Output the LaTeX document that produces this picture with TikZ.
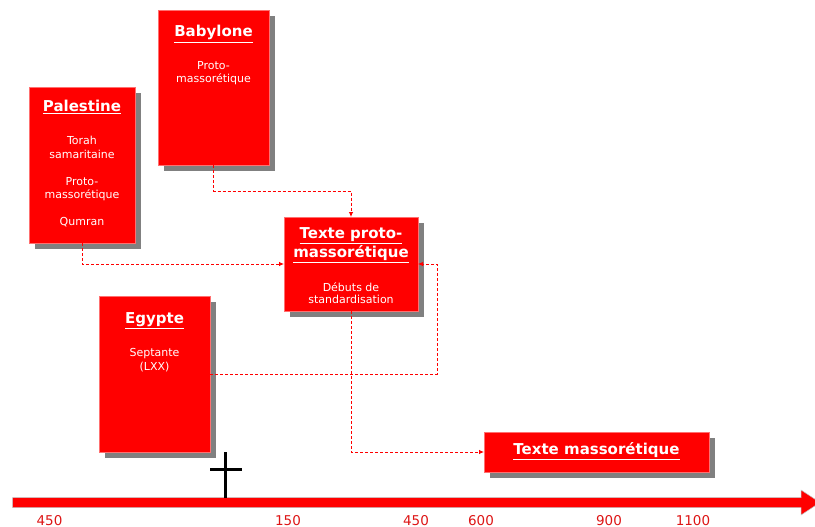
\documentclass[tikz,border=0pt]{standalone}
\usepackage{fontspec}
\setmainfont{DejaVu Sans}
\usetikzlibrary{shadows,arrows.meta}
\definecolor{boxred}{HTML}{FF0000}
\definecolor{edgered}{HTML}{FF7070}
\definecolor{shadowgray}{HTML}{808080}
\definecolor{labred}{HTML}{DD1515}
\newcommand\myul[1]{\vtop{\hbox{#1}\kern1.6pt\hrule height1.4pt}}
\tikzset{
  rbox/.style={rectangle, fill=boxred, draw=edgered, line width=0.6pt, inner sep=0pt, outer sep=0pt,
    general shadow={shadow xshift=6pt, shadow yshift=-6pt, fill=shadowgray, draw=none}},
  ttl/.style={anchor=base, text=white, inner sep=0pt, font=\fontsize{15}{19}\selectfont\bfseries},
  bdy/.style={anchor=base, text=white, inner sep=0pt, font=\fontsize{11}{13.5}\selectfont},
  conn/.style={draw=boxred, line width=0.8pt, dash pattern=on 3pt off 2pt, -{Latex[length=5pt,width=4.5pt]}},
  tl/.style={anchor=base, text=labred, inner sep=0pt, font=\fontsize{13.5}{15}\selectfont},
  crossline/.style={draw=black, line width=3pt},
}
\begin{document}
\begin{tikzpicture}[x=1pt,y=-1pt]
\useasboundingbox (0,0) rectangle (815,527);
% boxes
\node[rbox, minimum width=106pt, minimum height=156pt] (pal) at (82,165) {};
\node[rbox, minimum width=111pt, minimum height=155pt] (bab) at (213.5,87.5) {};
\node[rbox, minimum width=134pt, minimum height=94pt] (proto) at (351,264) {};
\node[rbox, minimum width=111pt, minimum height=156pt] (egy) at (154.5,374) {};
\node[rbox, minimum width=225pt, minimum height=40pt] (masso) at (596.5,452) {};
% Palestine texts
\node[ttl] (palt) at (82,111) {\myul{Palestine}};
\node[bdy] (pal1) at (82,144) {Torah};
\node[bdy] (pal2) at (82,158) {samaritaine};
\node[bdy] (pal3) at (82,185) {Proto-};
\node[bdy] (pal4) at (82,198) {massorétique};
\node[bdy] (pal5) at (82,225) {Qumran};
% Babylone texts
\node[ttl] (babt) at (213.5,37) {\myul{Babylone}};
\node[bdy] (bab1) at (213.5,70) {Proto-};
\node[bdy] (bab2) at (213.5,83) {massorétique};
% proto texts
\node[ttl] (protot1) at (351,238) {\myul{Texte proto-}};
\node[ttl] (protot2) at (351,257) {\myul{massorétique}};
\node[bdy] (proto1) at (351,291) {Débuts de};
\node[bdy] (proto2) at (351,303.5) {standardisation};
% Egypte texts
\node[ttl] (egyt) at (154.5,323) {\myul{Egypte}};
\node[bdy] (egy1) at (154.5,356) {Septante};
\node[bdy] (egy2) at (154.5,370) {(LXX)};
% massoretique
\node[ttl] (massot) at (596.5,454) {\myul{Texte massorétique}};
% connectors
\draw[conn] (bab.south) -- ++(0,26) -| (proto.north);
\draw[conn] (pal.south) |- (proto.west);
\coordinate (egyturn) at (437,374);
\draw[conn] (egy.east) -- (egyturn) |- (proto.east);
\draw[conn] (proto.south) |- (masso.west);
% timeline
\filldraw[fill=boxred, draw=black!25, line width=0.5pt]
  (12.5,497.5) -- (801,497.5) -- (801,490) -- (820,502.5) -- (801,515) -- (801,507.5) -- (12.5,507.5) -- cycle;
\draw[crossline] (225.7,452) -- (225.7,498);
\draw[crossline] (210,469) -- (241.7,469);
\node[tl] (t1) at (49.5,525) {450};
\node[tl] (t2) at (288,525) {150};
\node[tl] (t3) at (416,525) {450};
\node[tl] (t4) at (481,525) {600};
\node[tl] (t5) at (609,525) {900};
\node[tl] (t6) at (693,525) {1100};
\end{tikzpicture}
\end{document}
